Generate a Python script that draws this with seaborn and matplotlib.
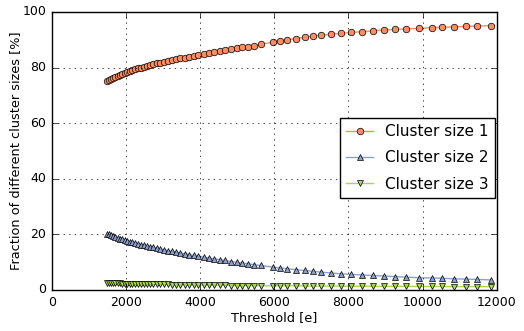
import matplotlib
matplotlib.use('Agg')
import matplotlib.pyplot as plt
import seaborn as sns
import pandas as pd

# threshold values [e]
threshold = [1500, 1550, 1605, 1660, 1715, 1775, 1835, 1895, 1960, 2030,
             2100, 2170, 2245, 2320, 2400, 2480, 2565, 2650, 2740, 2835,
             2930, 3030, 3135, 3240, 3350, 3465, 3580, 3700, 3825, 3955,
             4090, 4230, 4375, 4525, 4680, 4840, 4990, 5140, 5280, 5455,
             5635, 5970, 6150, 6355, 6580, 6820, 7045, 7270, 7540, 7795,
             8080, 8365, 8665, 8960, 9265, 9565, 9905, 10240, 10535, 10850,
             11165, 11480, 11840]

size1 = [75.0, 75.4, 75.8, 76.2, 76.6, 77.0, 77.4, 77.7, 78.1, 78.4,
         78.8, 79.1, 79.4, 79.7, 80.0, 80.3, 80.6, 80.9, 81.2, 81.5,
         81.8, 82.1, 82.4, 82.7, 83.0, 83.3, 83.6, 83.9, 84.2, 84.6,
         84.9, 85.2, 85.6, 85.9, 86.3, 86.6, 87.0, 87.3, 87.5, 87.9,
         88.3, 89.2, 89.6, 90.0, 90.4, 90.9, 91.3, 91.6, 92.0, 92.3,
         92.6, 92.9, 93.2, 93.5, 93.7, 93.9, 94.1, 94.3, 94.5, 94.6,
         94.8, 94.9, 95.1]

size2 = [20.3, 20.0, 19.7, 19.4, 19.1, 18.8, 18.5, 18.2, 18.0, 17.7,
         17.4, 17.1, 16.8, 16.6, 16.3, 16.1, 15.8, 15.5, 15.3, 15.0,
         14.7, 14.4, 14.1, 13.9, 13.6, 13.3, 13.0, 12.7, 12.4, 12.1,
         11.8, 11.5, 11.2, 10.9, 10.6, 10.2, 9.9, 9.7, 9.4, 9.1,
         8.8, 8.2, 7.9, 7.6, 7.3, 7.0, 6.7, 6.4, 6.1, 5.8,
         5.6, 5.4, 5.2, 5.0, 4.8, 4.6, 4.4, 4.3, 4.2, 4.0,
         3.9, 3.8, 3.6]

size3 = [2.5, 2.5, 2.5, 2.4, 2.4, 2.4, 2.4, 2.3, 2.3, 2.3,
         2.3, 2.2, 2.2, 2.2, 2.2, 2.1, 2.1, 2.1, 2.1, 2.0,
         2.0, 2.0, 2.0, 1.9, 1.9, 1.9, 1.9, 1.8, 1.8, 1.8,
         1.8, 1.7, 1.7, 1.7, 1.7, 1.6, 1.6, 1.6, 1.6, 1.6,
         1.5, 1.5, 1.5, 1.5, 1.5, 1.4, 1.4, 1.4, 1.4, 1.4,
         1.35, 1.35, 1.3, 1.3, 1.3, 1.3, 1.25, 1.25, 1.25, 1.2,
         1.2, 1.2, 1.2]

labels = ['Cluster size 1', 'Cluster size 2', 'Cluster size 3']
markers = ['o', '^', 'v']

plt.style.use('classic')
plt.rcParams['figure.facecolor'] = 'white'
plt.rcParams['savefig.facecolor'] = 'white'
plt.rcParams['font.family'] = ['DejaVu Sans']
plt.rcParams['font.size'] = 9.3

pal = sns.color_palette('Set2')
colors = [pal[1], pal[2], pal[4]]

fig = plt.figure(figsize=(5.24, 3.31), dpi=100)
ax = fig.add_axes([0.099, 0.124, 0.849, 0.840])

for vals, lab, m, c in zip([size1, size2, size3], labels, markers, colors):
    df = pd.DataFrame({'Threshold': threshold, 'Fraction': vals})
    sns.lineplot(data=df, x='Threshold', y='Fraction', ax=ax, label=lab,
                 color=c, marker=m, markersize=4.7, markerfacecolor=c,
                 markeredgecolor='black', markeredgewidth=0.5, linewidth=1)

ax.set_xlim(0, 12000)
ax.set_ylim(0, 100)
ax.grid(True, color='black', linestyle=':', linewidth=0.5)
ax.tick_params(labelsize=9)
ax.set_xlabel('Threshold [e]', fontsize=9.3)
ax.set_ylabel('Fraction of different cluster sizes [%]', fontsize=9.3)
ax.yaxis.set_label_coords(-0.068, 0.5)
ax.xaxis.set_label_coords(0.5, -0.077)
ax.legend(loc='center right', bbox_to_anchor=(1.0, 0.475), numpoints=1,
          fontsize=11, frameon=True, fancybox=False, borderaxespad=0.1,
          labelspacing=0.75, handlelength=1.8)

fig.savefig('out.png', dpi=100)
